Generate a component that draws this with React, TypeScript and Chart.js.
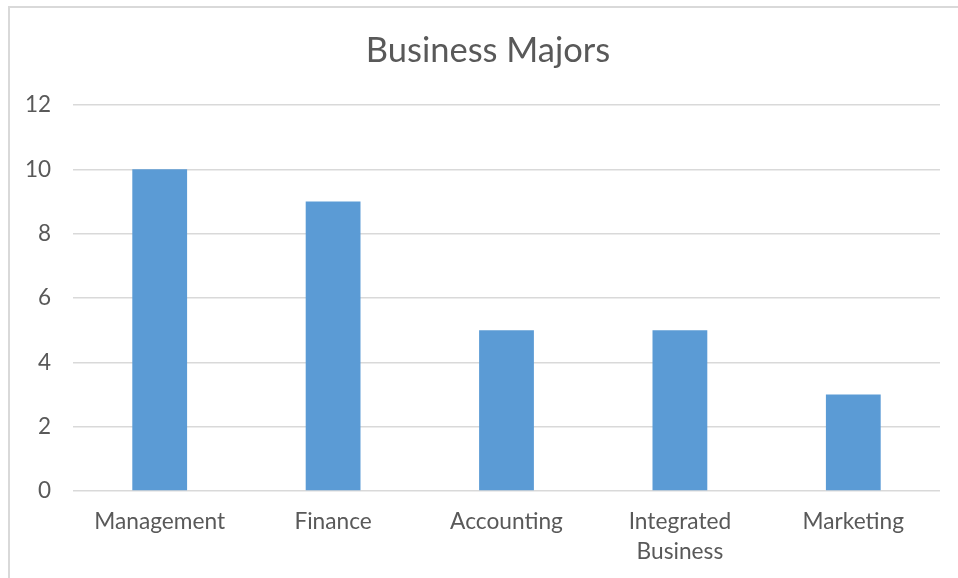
import React, { useEffect, useRef } from "react";
import { Chart, registerables } from "chart.js";

Chart.register(...registerables);

const categories: (string | string[])[] = ["Management", "Finance", "Accounting", ["Integrated", "Business"], "Marketing"];
const values: number[] = [10, 9, 5, 5, 3];
const yTicks: number[] = [0, 2, 4, 6, 8, 10, 12];
const titleText = "Business Majors";

const TEXT = "#595959";
const GRID = "#d9d9d9";
const BAR = "#5b9bd5";
const FONT = "Lato, 'DejaVu Sans', sans-serif";

export default function App() {
  const ref = useRef<HTMLCanvasElement | null>(null);

  useEffect(() => {
    if (!ref.current) return;
    const chart = new Chart(ref.current, {
      type: "bar",
      data: {
        labels: categories,
        datasets: [
          {
            data: values,
            backgroundColor: BAR,
            borderWidth: 0,
            barPercentage: 0.316,
            categoryPercentage: 1,
            yAxisID: "y",
          },
        ],
      },
      options: {
        animation: false,
        responsive: false,
        maintainAspectRatio: false,
        layout: { padding: { left: 18, right: 0, top: 0, bottom: 0 } },
        plugins: {
          legend: { display: false },
          tooltip: { enabled: false },
          title: {
            display: true,
            text: titleText,
            color: TEXT,
            font: { family: FONT, size: 34.5, weight: "normal", lineHeight: 1.2 },
            padding: { top: 30, bottom: 33.6 },
          },
        },
        scales: {
          x: {
            grid: { display: false, drawTicks: false },
            border: { display: false },
            ticks: {
              color: TEXT,
              font: { family: FONT, size: 22.7, lineHeight: 1.32 },
              padding: 16,
              maxRotation: 0,
              autoSkip: false,
            },
            afterFit: (s: any) => {
              s.height = 87;
            },
          },
          y: {
            min: 0,
            max: 12,
            afterBuildTicks: (s: any) => {
              s.ticks = yTicks.map((v) => ({ value: v }));
            },
            grid: { color: GRID, lineWidth: 1.5, drawTicks: false },
            border: { display: false },
            ticks: {
              color: TEXT,
              font: { family: FONT, size: 22.5 },
              padding: 22,
            },
            afterFit: (s: any) => {
              s.width = 55;
            },
          },
          y2: {
            position: "right",
            display: true,
            grid: { display: false, drawTicks: false },
            border: { display: false },
            ticks: { display: false },
            afterFit: (s: any) => {
              s.width = 18;
            },
          },
        },
      },
    } as any);
    return () => chart.destroy();
  }, []);

  return (
    <div style={{ position: "absolute", left: 0, top: 0, width: 958, height: 578, background: "#fff", overflow: "hidden" }}>
      <canvas ref={ref} width={958} height={578} style={{ position: "absolute", left: 0, top: 0, width: 958, height: 578 }} />
      <div
        style={{
          position: "absolute",
          left: 8,
          top: 6,
          width: 960,
          height: 580,
          borderTop: `2px solid ${GRID}`,
          borderLeft: `2px solid ${GRID}`,
          pointerEvents: "none",
        }}
      />
    </div>
  );
}
